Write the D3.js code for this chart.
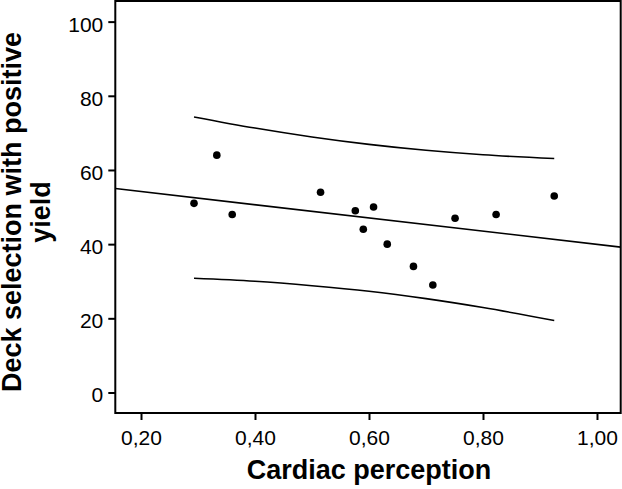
<!DOCTYPE html>
<html>
<head>
<meta charset="utf-8">
<script src="https://cdn.jsdelivr.net/npm/d3@7"></script>
<style>
  html, body { margin: 0; padding: 0; background: #fff; }
  svg { display: block; }
  text { font-family: "Liberation Sans", Arial, Helvetica, sans-serif; fill: #000; }
</style>
</head>
<body>
<script>
// ---- data ----
const pointX = [0.293, 0.333, 0.360, 0.515, 0.576, 0.590, 0.608, 0.632, 0.678, 0.712, 0.751, 0.823, 0.925];
const pointY = [51, 64, 48, 54, 49, 44, 50, 40, 34, 29, 47, 48, 53];

const fitX = [0.155, 1.0416];
const fitY = [55.0, 39.2];

const bandX = [0.293, 0.40, 0.50, 0.60, 0.70, 0.80, 0.925];
const upperY = [74.3, 71.3, 68.9, 66.9, 65.3, 64.1, 63.1];
const lowerY = [30.8, 30.0, 28.8, 27.3, 25.3, 22.9, 19.4];

const xTicks = [0.2, 0.4, 0.6, 0.8, 1.0];
const yTicks = [0, 20, 40, 60, 80, 100];
const xTitle = "Cardiac perception";
const yTitleLines = ["Deck selection with positive", "yield"];

// ---- layout ----
const W = 622, H = 489;
const mLeft = 115.3, mRight = 620.7, mTop = 1, mBottom = 413;

const svg = d3.select("body").append("svg").attr("width", W).attr("height", H);

const x = d3.scaleLinear().domain([0.1549, 1.0416]).range([mLeft, mRight]);
const y = d3.scaleLinear().domain([-5.53, 105.56]).range([mBottom, mTop]);

// frame
svg.append("rect")
  .attr("x", mLeft).attr("y", mTop)
  .attr("width", mRight - mLeft).attr("height", mBottom - mTop)
  .attr("fill", "none").attr("stroke", "#000").attr("stroke-width", 2);

const fmt = d => d3.format(".2f")(d).replace(".", ",");

// x axis
const xAxis = svg.append("g").attr("transform", `translate(0,${mBottom})`)
  .call(d3.axisBottom(x).tickValues(xTicks).tickFormat(fmt).tickSize(7).tickPadding(10));
xAxis.select(".domain").remove();
xAxis.selectAll("line").attr("stroke", "#000").attr("stroke-width", 2);
xAxis.selectAll("text").attr("font-size", 21).attr("font-family", '"Liberation Sans", Arial, sans-serif').attr("fill", "#000");

// y axis
const yAxis = svg.append("g").attr("transform", `translate(${mLeft},0)`)
  .call(d3.axisLeft(y).tickValues(yTicks).tickSize(7).tickPadding(5));
yAxis.select(".domain").remove();
yAxis.selectAll("line").attr("stroke", "#000").attr("stroke-width", 2);
yAxis.selectAll("text").attr("font-size", 21).attr("dy", "0.45em")
  .attr("font-family", '"Liberation Sans", Arial, sans-serif').attr("fill", "#000");

const plot = svg.append("g");

// fit line
const line = d3.line().x(d => x(d[0])).y(d => y(d[1]));
plot.append("path")
  .attr("d", line(d3.zip(fitX, fitY)))
  .attr("fill", "none").attr("stroke", "#000").attr("stroke-width", 1.6);

// prediction bands
const curve = d3.line().x(d => x(d[0])).y(d => y(d[1])).curve(d3.curveMonotoneX);
[upperY, lowerY].forEach(arr => {
  plot.append("path")
    .attr("d", curve(d3.zip(bandX, arr)))
    .attr("fill", "none").attr("stroke", "#000").attr("stroke-width", 1.6);
});

// points
plot.selectAll("circle").data(d3.zip(pointX, pointY)).enter().append("circle")
  .attr("cx", d => x(d[0])).attr("cy", d => y(d[1])).attr("r", 3.8).attr("fill", "#000");

// titles
svg.append("text")
  .attr("x", (mLeft + mRight) / 2 + 1).attr("y", 479)
  .attr("text-anchor", "middle").attr("font-size", 27).attr("font-weight", "bold")
  .text(xTitle);

const yc = 212;
const yBase = [21, 50];
yTitleLines.forEach((t, i) => {
  svg.append("text")
    .attr("transform", `translate(${yBase[i]},${yc}) rotate(-90)`)
    .attr("text-anchor", "middle").attr("font-size", 27).attr("font-weight", "bold")
    .text(t);
});
</script>
</body>
</html>
